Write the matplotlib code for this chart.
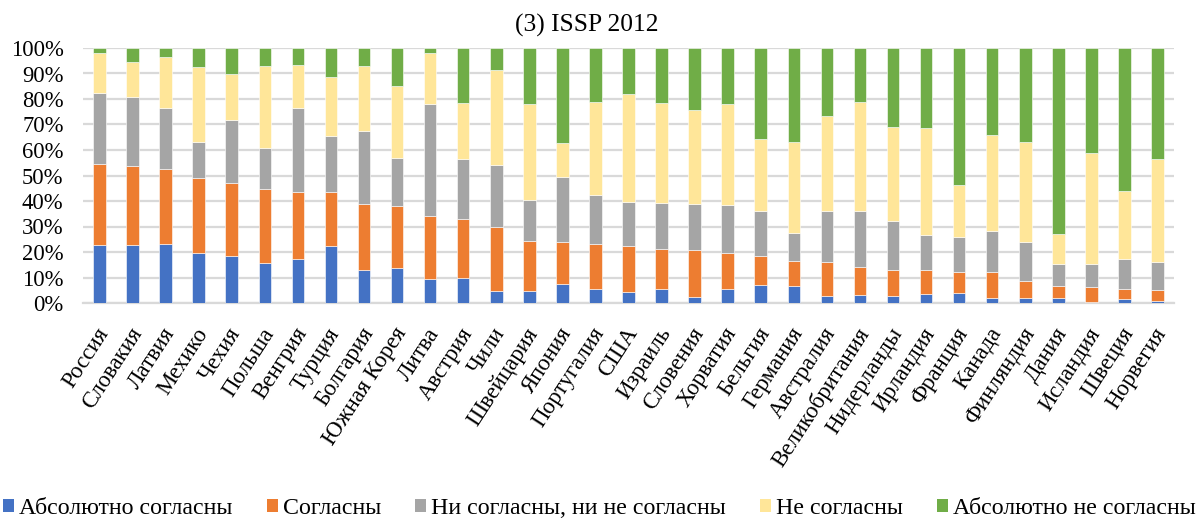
import matplotlib
matplotlib.use("Agg")
import matplotlib.pyplot as plt
import numpy as np
from matplotlib.patches import Patch
from matplotlib.ticker import FixedLocator
from matplotlib.transforms import ScaledTranslation

plt.rcParams['font.family'] = ['Liberation Serif', 'DejaVu Serif']

countries = ["Россия", "Словакия", "Латвия", "Мехико", "Чехия", "Польша", "Венгрия",
             "Турция", "Болгария", "Южная Корея", "Литва", "Австрия", "Чили",
             "Швейцария", "Япония", "Португалия", "США", "Израиль", "Словения",
             "Хорватия", "Бельгия", "Германия", "Австралия", "Великобритания",
             "Нидерланды", "Ирландия", "Франция", "Канада", "Финляндия", "Дания",
             "Исландия", "Швеция", "Норвегия"]

strongly_agree = [22.6, 22.6, 23.3, 19.6, 18.4, 15.5, 17.1, 22.2, 12.8, 13.7, 9.5, 10.0,
                  4.8, 4.8, 7.6, 5.5, 4.4, 5.5, 2.3, 5.3, 6.9, 6.8, 2.6, 3.0, 2.6, 3.5,
                  3.8, 1.8, 1.8, 2.1, 0.5, 1.4, 0.9]
agree = [32.0, 31.2, 29.1, 29.6, 28.7, 29.2, 26.6, 21.5, 26.2, 24.5, 24.8, 23.1, 25.1,
         19.7, 16.5, 17.7, 17.8, 15.6, 18.3, 14.4, 11.4, 9.6, 13.6, 11.3, 10.4, 9.3,
         8.3, 10.2, 6.9, 4.4, 5.6, 3.9, 4.1]
neutral = [27.7, 26.9, 24.0, 14.0, 24.5, 16.1, 32.6, 21.7, 28.5, 18.8, 43.7, 23.5, 24.3,
           15.9, 25.4, 19.2, 17.4, 18.3, 18.4, 18.8, 17.6, 11.2, 19.7, 21.9, 19.2, 13.7,
           13.8, 16.3, 15.3, 8.9, 9.3, 12.0, 11.2]
disagree = [15.9, 13.7, 20.1, 29.4, 18.2, 32.0, 17.1, 23.4, 25.5, 28.0, 19.9, 21.8, 37.2,
            37.7, 13.3, 36.3, 42.4, 39.1, 36.7, 39.6, 28.5, 35.6, 37.4, 42.5, 36.9, 42.3,
            20.4, 37.7, 39.0, 11.7, 43.4, 26.5, 40.4]
strongly_disagree = [1.8, 5.6, 3.5, 7.4, 10.2, 7.2, 6.6, 11.2, 7.0, 15.0, 2.1, 21.6, 8.6,
                     21.9, 37.2, 21.3, 18.0, 21.5, 24.3, 21.9, 35.6, 36.8, 26.7, 21.3,
                     30.9, 31.2, 53.7, 34.0, 37.0, 72.9, 41.2, 56.2, 43.4]

series_names = ["Абсолютно согласны", "Согласны", "Ни согласны, ни не согласны",
                "Не согласны", "Абсолютно не согласны"]
colors = ["#4472C4", "#ED7D31", "#A5A5A5", "#FFE699", "#70AD47"]

W, H = 1199, 519
fig = plt.figure(figsize=(W / 100, H / 100), dpi=100)
ax = fig.add_axes([83 / W, 1 - 303 / H, (1174 - 83) / W, (303 - 48) / H])

data = np.array([strongly_agree, agree, neutral, disagree, strongly_disagree])
shares = data / data.sum(axis=0) * 100
x = np.arange(len(countries))
bottom = np.zeros(len(countries))
for vals, col in zip(shares, colors):
    ax.bar(x, vals, bottom=bottom, width=0.38, color=col, edgecolor="white",
           linewidth=0.4, zorder=3)
    bottom += vals

ax.set_xlim(-0.5, len(countries) - 0.5)
ax.set_ylim(0, 100)
ax.yaxis.set_major_locator(FixedLocator(np.arange(0, 101, 10)))
ax.set_yticklabels([f"{v}%" for v in range(0, 101, 10)], fontsize=16.3)
ax.grid(axis="y", color="#d9d9d9", linewidth=1.6, zorder=0)
ax.set_axisbelow(True)
for s in ["top", "right", "left"]:
    ax.spines[s].set_visible(False)
ax.spines["bottom"].set_color("#d9d9d9")
ax.spines["bottom"].set_linewidth(1.6)
ax.tick_params(axis="y", length=0, pad=14)
ax.tick_params(axis="x", length=0, pad=15)
ax.set_xticks(x)
ax.set_xticklabels(countries, rotation=57, ha="right", va="top",
                   rotation_mode="anchor", fontsize=16.5)
shift = ScaledTranslation(-4 / 100, 0, fig.dpi_scale_trans)
for lbl in ax.get_xticklabels():
    lbl.set_transform(lbl.get_transform() + shift)

fig.text(587 / W, 1 - 25 / H, "(3) ISSP 2012", ha="center", va="center", fontsize=18.4)

handles = [Patch(facecolor=c, edgecolor="none") for c in colors]
fig.legend(handles, series_names, loc="lower center", bbox_to_anchor=(0.5, -0.027),
           ncol=5, frameon=False, fontsize=17.2, handlelength=0.46, handleheight=0.46,
           handletextpad=0.21, columnspacing=1.43, borderaxespad=0.2)

fig.savefig("out.png", dpi=100)
